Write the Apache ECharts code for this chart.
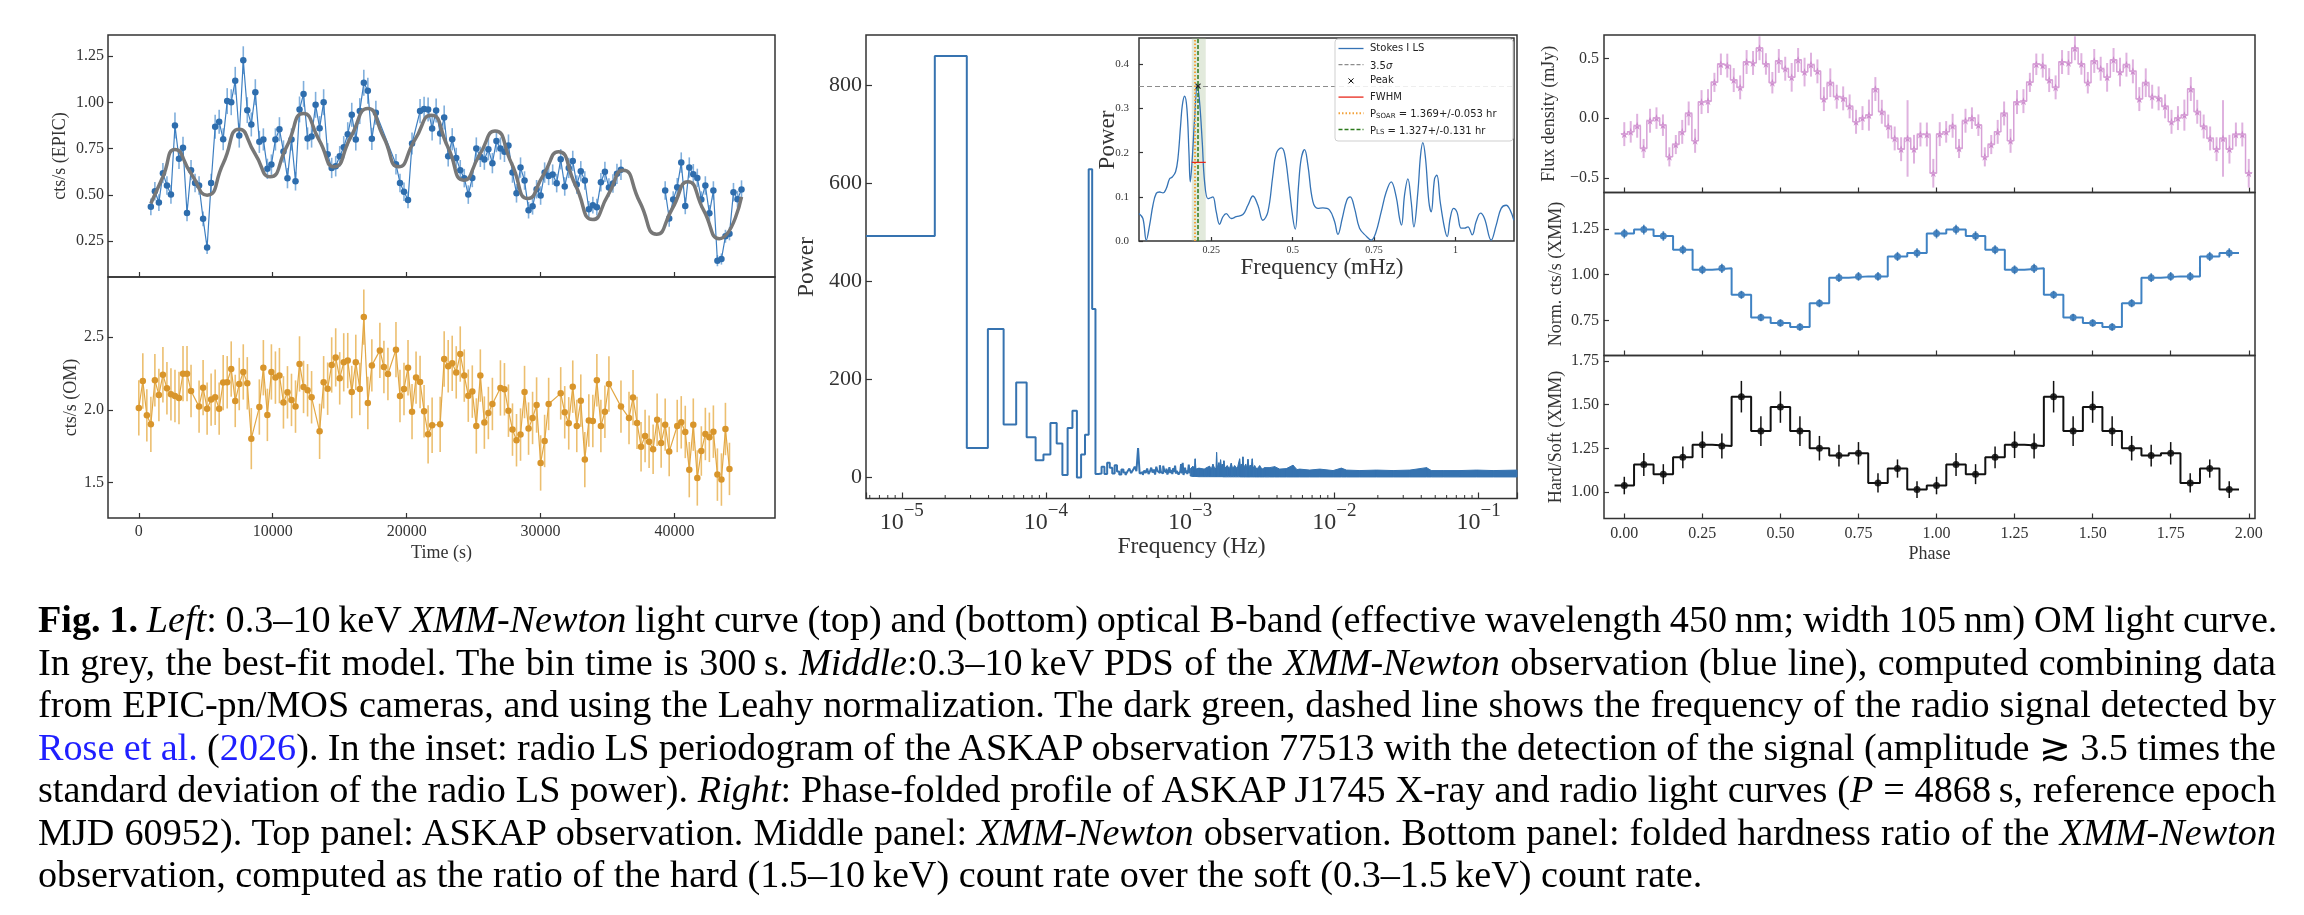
<!DOCTYPE html>
<html>
<head>
<meta charset="utf-8">
<script src="https://cdn.jsdelivr.net/npm/echarts@6/dist/echarts.min.js"></script>
<style>
  body { margin: 0; background: #fff; }
  #chart { position: absolute; left: 0; top: 0; width: 2304px; height: 915px; }
  #caption { position: absolute; left: 38px; top: 598px; width: 2238px;
    font-family: "Liberation Serif", serif; font-size: 38.2px; line-height: 42.5px; color: #000; }
  #caption .ln { white-space: nowrap; text-align: justify; text-align-last: justify; height: 42.5px; }
  #caption .last { text-align-last: left; }
  #caption .ref { color: #1f1fff; }
</style>
</head>
<body>
<div id="chart"></div>
<div id="caption">
  <div class="ln"><b>Fig. 1.</b> <i>Left</i>: 0.3–10&thinsp;keV <i>XMM-Newton</i> light curve (top) and (bottom) optical B-band (effective wavelength 450&thinsp;nm; width 105&thinsp;nm) OM light curve.</div>
  <div class="ln">In grey, the best-fit model. The bin time is 300&thinsp;s. <i>Middle</i>:0.3–10&thinsp;keV PDS of the <i>XMM-Newton</i> observation (blue line), computed combining data</div>
  <div class="ln">from EPIC-pn/MOS cameras, and using the Leahy normalization. The dark green, dashed line shows the frequency of the radio signal detected by</div>
  <div class="ln"><span class="ref">Rose et al.</span> (<span class="ref">2026</span>). In the inset: radio LS periodogram of the ASKAP observation 77513 with the detection of the signal (amplitude ≳ 3.5 times the</div>
  <div class="ln">standard deviation of the radio LS power). <i>Right</i>: Phase-folded profile of ASKAP&thinsp;J1745 X-ray and radio light curves (<i>P</i> = 4868&thinsp;s, reference epoch</div>
  <div class="ln">MJD 60952). Top panel: ASKAP observation. Middle panel: <i>XMM-Newton</i> observation. Bottom panel: folded hardness ratio of the <i>XMM-Newton</i></div>
  <div class="ln last">observation, computed as the ratio of the hard (1.5–10&thinsp;keV) count rate over the soft (0.3–1.5&thinsp;keV) count rate.</div>
</div>
<script>
// ---- left: EPIC light curve (300 s bins) ----
var epicTime = [900,1200,1500,1800,2100,2400,2700,3000,3300,3600,3900,4200,4500,4800,5100,5400,5700,6000,6300,6600,
  6900,7200,7500,7800,8100,8400,8700,9000,9300,9600,9900,10200,10500,10800,11100,11400,11700,12000,12300,12600,
  12900,13200,13500,13800,14100,14400,14700,15000,15300,15600,15900,16200,16500,16800,17100,17400,17700,
  19200,19500,19800,20100,20400,
  21000,21300,21600,21900,22200,22500,22800,23100,23400,23700,24000,24300,24600,24900,25200,25500,25800,26100,26400,26700,
  27000,27300,27600,27900,28200,28500,28800,29100,29400,29700,30000,30300,30600,30900,31200,31500,31800,32100,32400,32700,
  33000,33300,33600,33900,34200,34500,34800,35100,35400,35700,36000,
  37500,
  39300,39600,39900,40200,40500,40800,41100,41400,41700,42000,42300,42600,42900,43200,43500,43800,44100,44400,44700,45000];
var epicRate = [0.436,0.520,0.459,0.618,0.551,0.502,0.875,0.695,0.755,0.403,0.634,0.565,0.551,0.371,0.216,0.565,0.868,0.895,0.801,1.007,
  1.001,1.117,0.821,1.228,0.958,0.881,1.055,0.787,0.800,0.641,0.664,0.800,0.855,0.735,0.591,0.800,0.574,0.962,1.046,0.805,
  0.816,0.987,0.861,1.001,0.720,0.646,0.655,0.709,0.758,0.828,0.933,0.800,0.953,1.106,1.063,0.803,0.944,
  0.666,0.565,0.517,0.473,0.778,
  0.953,0.965,0.962,0.859,0.956,0.832,0.918,0.709,0.801,0.700,0.634,0.591,0.502,0.592,0.751,0.706,0.691,0.747,0.672,0.791,
  0.751,0.733,0.767,0.621,0.509,0.648,0.578,0.418,0.439,0.531,0.497,0.621,0.603,0.610,0.564,0.693,0.546,0.646,0.684,0.556,
  0.628,0.578,0.423,0.445,0.434,0.569,0.625,0.540,0.562,0.614,0.636,
  null,
  0.524,0.373,0.475,0.542,0.675,0.441,0.648,0.612,0.592,0.475,0.551,0.401,0.524,0.145,0.154,0.277,0.290,0.515,0.477,0.529];
var epicErr = [0.045,0.05,0.045,0.055,0.05,0.05,0.07,0.055,0.06,0.045,0.055,0.05,0.05,0.04,0.035,0.05,0.065,0.065,0.06,0.07,
  0.07,0.075,0.065,0.075,0.07,0.065,0.07,0.06,0.06,0.055,0.055,0.06,0.065,0.06,0.055,0.06,0.05,0.07,0.07,0.06,
  0.06,0.07,0.065,0.07,0.06,0.055,0.055,0.055,0.06,0.065,0.065,0.06,0.07,0.07,0.07,0.06,0.065,
  0.055,0.05,0.05,0.045,0.06,
  0.065,0.065,0.065,0.065,0.065,0.06,0.065,0.055,0.06,0.055,0.055,0.05,0.05,0.05,0.06,0.055,0.055,0.06,0.055,0.06,
  0.06,0.055,0.06,0.055,0.05,0.055,0.05,0.045,0.045,0.05,0.05,0.055,0.05,0.055,0.05,0.055,0.05,0.055,0.055,0.05,
  0.055,0.05,0.045,0.045,0.045,0.05,0.055,0.05,0.05,0.055,0.055,
  null,
  0.05,0.045,0.045,0.05,0.055,0.045,0.055,0.055,0.05,0.045,0.05,0.045,0.05,0.03,0.03,0.035,0.035,0.05,0.045,0.05];
// best-fit model read at its turning points and crossings
var modelTime = [900,1800,2700,3900,5100,6300,7500,8667,9800,11033,12300,13467,14600,15833,17100,18267,19400,20600,21833,23067,
  24267,25433,26600,27833,29067,30200,31333,32600,33900,35033,36167,37400,38667,39833,41000,42167,43333,45000];
var modelRate = [0.454,0.598,0.745,0.616,0.499,0.670,0.855,0.724,0.598,0.760,0.940,0.796,0.652,0.814,0.967,0.814,0.652,0.796,0.931,0.760,
  0.580,0.715,0.846,0.670,0.481,0.607,0.733,0.553,0.367,0.499,0.634,0.463,0.288,0.427,0.571,0.418,0.264,0.490];

// ---- left: OM B-band light curve ----
var omTime = [0,300,600,900,1200,1500,1800,2100,2400,2700,3000,3300,3600,3900,
  4500,4800,5100,5400,5700,6000,6300,6600,6900,7200,7500,7800,8100,8400,
  9000,9300,9600,9900,10200,10500,10800,11100,11400,11700,12000,12300,12600,12900,
  13500,13800,14100,14400,14700,15000,15300,15600,15900,16200,16500,16800,17100,17400,
  18000,18300,18600,19200,19500,19800,20100,20400,20700,21000,21300,21600,21900,
  22500,22800,23100,23400,23700,24000,24300,24600,24900,25200,25500,25800,26100,26400,
  27000,27300,27600,27900,28200,28500,28800,29100,29400,29700,30000,30300,30600,
  31500,31800,32100,32400,32700,33000,33300,33600,33900,34200,34500,34800,35100,
  36000,36600,36900,37200,37500,37800,38100,38400,38700,39000,39300,39600,
  40200,40500,40800,41100,41400,41700,42000,42300,42600,42900,43200,43500,43800,44100];
var omRate = [2.013,2.198,1.962,1.900,2.203,2.102,2.241,2.148,2.106,2.095,2.081,2.248,2.248,2.129,
  2.022,2.152,2.008,2.070,2.086,2.008,2.187,2.189,2.280,2.061,2.177,2.260,2.182,1.802,
  2.019,2.289,1.965,2.260,2.221,2.235,2.051,2.120,2.068,2.022,2.315,2.157,2.134,2.086,
  1.852,2.189,2.145,2.308,2.360,2.216,2.326,2.338,2.122,2.326,2.143,2.637,2.047,2.305,
  2.408,2.294,2.246,2.413,2.095,2.143,2.289,1.987,2.221,2.191,1.990,1.832,1.894,
  1.900,2.349,2.299,2.319,2.257,2.383,2.235,2.097,2.125,1.889,2.235,1.912,1.978,2.040,
  2.150,2.141,1.994,1.864,1.791,1.830,2.122,1.871,1.944,2.033,1.635,1.786,2.040,
  2.113,1.983,1.907,2.159,1.889,2.063,1.658,1.926,1.923,2.203,1.889,1.987,2.177,
  2.022,1.944,2.084,1.910,1.747,1.820,1.781,1.729,1.932,1.772,1.898,1.713,
  1.889,1.914,1.848,1.589,1.898,1.532,1.717,1.834,1.811,1.850,1.555,1.521,1.868,1.594];
var omErr = [0.19,0.19,0.18,0.19,0.18,0.18,0.19,0.18,0.18,0.18,0.18,0.19,0.19,0.18,
  0.18,0.19,0.18,0.18,0.19,0.18,0.19,0.18,0.19,0.18,0.18,0.19,0.18,0.21,
  0.19,0.19,0.18,0.19,0.18,0.19,0.18,0.18,0.18,0.18,0.19,0.18,0.18,0.18,
  0.19,0.18,0.18,0.19,0.20,0.18,0.20,0.19,0.18,0.19,0.18,0.19,0.18,0.18,
  0.19,0.18,0.18,0.19,0.18,0.18,0.19,0.19,0.18,0.18,0.18,0.20,0.19,
  0.19,0.19,0.18,0.19,0.18,0.19,0.18,0.18,0.18,0.19,0.18,0.18,0.18,0.18,
  0.19,0.18,0.18,0.18,0.18,0.18,0.18,0.18,0.18,0.19,0.19,0.18,0.18,
  0.18,0.18,0.18,0.18,0.18,0.18,0.19,0.18,0.18,0.18,0.18,0.18,0.19,
  0.18,0.18,0.19,0.18,0.17,0.18,0.18,0.17,0.18,0.17,0.18,0.17,
  0.18,0.18,0.18,0.19,0.18,0.19,0.17,0.18,0.17,0.18,0.18,0.18,0.18,0.18];

// ---- middle: PDS, Leahy normalised ----
var pdsBinWidth = 1.13e-5;   // Hz, bins k = 1..88 are drawn one by one
var pdsPower = [493,860,60,303,108,194,82,35,47,111,69,5,101,136,0,47,87,629,344,7,
  8,22,7,30,20,8,25,12,6,16,10,5,12,18,9,15,22,13,60,8,
  11,5,14,9,18,7,12,20,10,16,6,22,13,9,25,11,8,24,14,10,
  18,6,12,21,9,15,7,19,11,24,8,13,17,6,10,12,27,8,30,5,
  11,20,9,14,7,12,26,10];
// above 1 mHz the bins merge into a band: its upper and lower edge
var noiseFreq = [1.000e-3,1.043e-3,1.070e-3,1.083e-3,1.096e-3,1.15e-3,1.25e-3,1.30e-3,1.362e-3,1.40e-3,
  1.437e-3,1.48e-3,1.51e-3,1.524e-3,1.54e-3,1.581e-3,1.60e-3,1.624e-3,1.645e-3,1.668e-3,
  1.69e-3,1.713e-3,1.74e-3,1.807e-3,1.87e-3,1.926e-3,1.97e-3,2.032e-3,2.12e-3,2.201e-3,
  2.23e-3,2.260e-3,2.29e-3,2.321e-3,2.35e-3,2.423e-3,2.47e-3,2.515e-3,2.56e-3,2.610e-3,
  2.65e-3,2.694e-3,2.73e-3,2.797e-3,2.9e-3,3.031e-3,3.15e-3,3.283e-3,3.556e-3,3.852e-3,
  4.173e-3,4.642e-3,5.164e-3,5.5e-3,5.745e-3,6.741e-3,7.910e-3,9.788e-3,1.118e-2,1.212e-2,
  1.499e-2,1.957e-2,2.555e-2,3.335e-2,4.354e-2,4.7e-2,5.683e-2,7.420e-2,9.685e-2,0.1264,0.1845];
var noiseHigh = [17,23,17,38,17,19,17,20,23,17,
  27,18,19,51,20,30,19,36,20,27,
  20,34,19,24,18,29,18,24,18,38,
  19,27,19,42,20,27,19,37,19,25,
  19,38,19,24,17,24,17,20,20,22,
  17,18,25,16,17,15,17,14,19,15,
  14,15,14,15,20,14,14,14,15,14,15];
var noiseLow = [3,2,2,2,2,1.5,1.5,1.5,1.5,1.5,
  1.5,1.5,1.5,1.5,1.5,1.5,1.5,1.5,1.5,1.5,
  1.2,1.2,1.2,1.2,1.2,1.2,1.2,1.2,1.2,1.2,
  1,1,1,1,1,1,1,1,1,1,
  1,1,1,1,1,1,1,1,1,1,
  1,1,1,1,1,1,1,1,1,1,
  1,1,1,1,1,1,1,1,1,1,1];
var radioFreqHz = 2.093e-4;

// ---- inset: ASKAP Stokes I LS periodogram ----
var lsFreq = [0.0278,0.040,0.0503,0.0606,0.0708,0.081,0.0913,0.1015,0.1118,0.122,
  0.1302,0.1404,0.1476,0.1558,0.161,0.168,0.1752,0.1814,0.1855,0.1916,
  0.1988,0.207,0.2141,0.2223,0.2295,0.2397,0.2479,0.2551,0.2653,0.2756,
  0.2858,0.2960,0.3114,0.3267,0.3472,0.3626,0.378,0.3933,0.4086,0.424,
  0.4393,0.4496,0.465,0.4752,0.4885,0.5008,0.508,0.5182,0.5264,0.5366,
  0.5468,0.5622,0.5776,0.5929,0.6134,0.6288,0.639,0.6523,0.6666,0.6769,
  0.6902,0.7055,0.726,0.7414,0.7547,0.772,0.7874,0.8028,0.8181,0.8284,
  0.8345,0.8437,0.854,0.8642,0.8724,0.8847,0.8929,0.9,0.9082,0.9185,
  0.9256,0.9359,0.943,0.9533,0.9666,0.9748,0.984,0.9942,1.0045,1.0178,
  1.028,1.0383,1.0516,1.0638,1.0772,1.0894,1.1099,1.1253,1.1406,1.156,
  1.1683,1.1795];
var lsPower = [0.0625,0.051,0.002,0.036,0.081,0.108,0.111,0.109,0.119,0.141,
  0.145,0.157,0.187,0.262,0.307,0.328,0.300,0.202,0.134,0.187,
  0.277,0.352,0.315,0.224,0.134,0.096,0.098,0.100,0.066,0.038,
  0.055,0.062,0.051,0.055,0.060,0.081,0.102,0.081,0.047,0.066,
  0.149,0.198,0.211,0.198,0.126,0.051,0.027,0.126,0.187,0.207,
  0.172,0.089,0.074,0.075,0.070,0.044,0.015,0.051,0.093,0.100,
  0.074,0.029,0.011,0.002,0.017,0.066,0.111,0.134,0.100,0.051,
  0.036,0.104,0.141,0.089,0.032,0.111,0.194,0.223,0.187,0.089,
  0.066,0.141,0.149,0.089,0.029,0.010,0.051,0.074,0.066,0.029,
  0.029,0.032,0.014,0.044,0.063,0.051,0.002,0.036,0.074,0.081,
  0.070,0.047];
var lsSigmaLevel = 0.35;
var lsPeak = [0.2093, 0.351];
var lsFwhm = [0.190, 0.233, 0.178];
var pSoarFreq = 0.2029;   // mHz
var pLsFreq = 0.2093;     // mHz

// ---- right: folded profiles (one cycle, shown twice) ----
var radioFlux = [-0.134,-0.115,-0.064,-0.254,-0.022,0.0,-0.059,-0.324,-0.221,-0.115,
  0.039,-0.190,0.134,0.142,0.299,0.450,0.439,0.318,0.257,0.469,
  0.461,0.584,0.453,0.296,0.478,0.413,0.341,0.486,0.385,0.447,
  0.391,0.159,0.296,0.179,0.165,0.098,-0.031,0.0,0.025,0.243,
  0.053,-0.070,-0.170,-0.260,-0.170,-0.260,-0.137,-0.137,-0.461];
var radioErr = [0.10,0.09,0.10,0.08,0.10,0.09,0.09,0.08,0.08,0.10,
  0.10,0.10,0.10,0.10,0.08,0.09,0.10,0.10,0.10,0.10,
  0.10,0.10,0.09,0.09,0.10,0.10,0.12,0.10,0.12,0.10,
  0.10,0.10,0.12,0.10,0.10,0.10,0.10,0.10,0.13,0.10,
  0.10,0.10,0.10,0.10,0.32,0.12,0.10,0.10,0.12];
var xmmRate = [1.225,1.247,1.212,1.137,1.027,1.035,0.890,0.766,0.736,0.714,0.844,0.984,0.991,0.991,1.100,1.119];
var xmmErr = [0.026,0.027,0.026,0.025,0.024,0.025,0.022,0.021,0.020,0.020,0.022,0.024,0.024,0.024,0.025,0.026];
var hrRatio = [1.038,1.158,1.103,1.199,1.271,1.264,1.545,1.349,1.486,1.349,1.251,1.209,1.222,1.053,1.135,1.015];
var hrErr = [0.050,0.065,0.057,0.062,0.076,0.071,0.090,0.085,0.090,0.085,0.070,0.062,0.064,0.055,0.052,0.048];

var timeTicks = [0, 10000, 20000, 30000, 40000];
var phaseTicks = [0, 0.25, 0.5, 0.75, 1.0, 1.25, 1.5, 1.75, 2.0];

var FONT = 'Liberation Serif';
var INK = '#333';

var chart = echarts.init(document.getElementById('chart'), null, { renderer: 'canvas' });

function frame(left, top, width, height) {
  return { left: left, top: top, width: width, height: height, show: true,
    borderColor: INK, borderWidth: 1.5, backgroundColor: 'transparent',
    containLabel: false, outerBoundsMode: 'none' };
}

function axis(type, grid, min, max, ticks, o) {
  o = o || {};
  return {
    type: type, gridIndex: grid, min: min, max: max,
    axisLine: { show: false, onZero: false }, splitLine: { show: false },
    axisTick: { show: true, inside: true, length: o.len || 5, customValues: ticks,
      lineStyle: { color: INK, width: 1.2 } },
    axisLabel: o.fmt ? { show: true, customValues: ticks, formatter: o.fmt, margin: o.margin,
      color: INK, fontFamily: FONT, fontSize: o.size || 16 } : { show: false }
  };
}

function pairs(xs, ys) {
  return xs.map(function (x, i) { return [x, ys[i]]; });
}

function steps(xs, ys, half) {
  var pts = [];
  xs.forEach(function (x, i) { pts.push([x - half, ys[i]], [x + half, ys[i]]); });
  return pts;
}

function errorBars(xi, yi, xs, ys, es, color, width) {
  return {
    type: 'custom', xAxisIndex: xi, yAxisIndex: yi, silent: true,
    encode: { x: 0, y: [1, 2] },
    data: xs.map(function (x, i) {
      return ys[i] == null ? [x, NaN, NaN] : [x, ys[i] - es[i], ys[i] + es[i]];
    }),
    renderItem: function (params, api) {
      var lo = api.coord([api.value(0), api.value(1)]);
      var hi = api.coord([api.value(0), api.value(2)]);
      if (isNaN(lo[1]) || isNaN(hi[1])) return null;
      return { type: 'line', shape: { x1: lo[0], y1: lo[1], x2: hi[0], y2: hi[1] },
        style: { stroke: color, lineWidth: width } };
    }
  };
}

function cycles(vals, n) {
  var out = [];
  for (var c = 0; c < n; c++) out = out.concat(vals);
  return out;
}

// phase grids
var radioStep = 2 / 97;
var radioPhase = [], xmmPhase = [];
for (var i = 0; i < 98; i++) radioPhase.push(i * radioStep);
for (var j = 0; j < 32; j++) xmmPhase.push(j / 16);
var radioVals = cycles(radioFlux, 2), radioErrs = cycles(radioErr, 2);
var xmmVals = cycles(xmmRate, 2), xmmErrs = cycles(xmmErr, 2);
var hrVals = cycles(hrRatio, 2), hrErrs = cycles(hrErr, 2);

// PDS bins
var pdsFreq = pdsPower.map(function (p, k) { return (k + 1) * pdsBinWidth; });
var pdsMin = 0.5 * pdsBinWidth, pdsMax = 0.1845;
var pdsMinor = [];
for (var e = -6; e <= -1; e++) {
  for (var m = 2; m <= 9; m++) {
    var v = m * Math.pow(10, e);
    if (v > pdsMin && v < pdsMax) pdsMinor.push(v);
  }
}

function isDecade(v) {
  var l = Math.log10(v);
  return Math.abs(l - Math.round(l)) < 1e-6;
}

function vText(text, x, y, size) {
  return { type: 'text', x: x, y: y, rotation: Math.PI / 2, z: 50,
    style: { text: text, fontFamily: FONT, fontSize: size, fill: INK, align: 'center', verticalAlign: 'middle' } };
}
function hText(text, x, y, size) {
  return { type: 'text', x: x, y: y, z: 50,
    style: { text: text, fontFamily: FONT, fontSize: size, fill: INK, align: 'center', verticalAlign: 'middle' } };
}

// inset legend
var lgX = 1335, lgY = 39, lgRow = 16.2, lgFirst = 48.5;
var lgSamples = [
  { stroke: '#3573b5', dash: null, w: 1.3 },
  { stroke: '#8c8c8c', dash: [4, 2], w: 1.2 },
  null,
  { stroke: '#e8281c', dash: null, w: 1.3 },
  { stroke: '#f2a13a', dash: [1.5, 2], w: 2 },
  { stroke: '#2c7a1c', dash: [4, 2], w: 1.5 }
];
var lgTexts = ['Stokes I LS', '{a|3.5}{i|σ}', 'Peak', 'FWHM',
  '{a|P}{s|SOAR}{a| = 1.369+/-0.053 hr}', '{a|P}{s|LS}{a| = 1.327+/-0.131 hr}'];
var legendEls = [{ type: 'rect', shape: { x: lgX, y: lgY, width: 178, height: 102, r: 3 },
  style: { fill: 'rgba(255,255,255,0.85)', stroke: '#cfcfcf', lineWidth: 1 }, z: 60 }];
lgTexts.forEach(function (t, n) {
  var y = lgFirst + n * lgRow;
  var s = lgSamples[n];
  if (s) {
    legendEls.push({ type: 'line', z: 61, shape: { x1: lgX + 3.5, y1: y, x2: lgX + 28.5, y2: y },
      style: { stroke: s.stroke, lineWidth: s.w, lineDash: s.dash } });
  } else {
    legendEls.push({ type: 'line', z: 61, shape: { x1: lgX + 13.5, y1: y - 2.5, x2: lgX + 18.5, y2: y + 2.5 },
      style: { stroke: '#000', lineWidth: 1 } });
    legendEls.push({ type: 'line', z: 61, shape: { x1: lgX + 13.5, y1: y + 2.5, x2: lgX + 18.5, y2: y - 2.5 },
      style: { stroke: '#000', lineWidth: 1 } });
  }
  legendEls.push({ type: 'text', z: 61, x: lgX + 35, y: y,
    style: { text: t, fontFamily: 'DejaVu Sans', fontSize: 10, fill: '#222', verticalAlign: 'middle',
      rich: { a: { fontFamily: 'DejaVu Sans', fontSize: 10, fill: '#222', verticalAlign: 'bottom', lineHeight: 13 },
              i: { fontFamily: 'DejaVu Sans', fontSize: 10, fontStyle: 'italic', fill: '#222', verticalAlign: 'bottom', lineHeight: 13 },
              s: { fontFamily: 'DejaVu Sans', fontSize: 7, fill: '#222', verticalAlign: 'bottom', lineHeight: 10 } } } });
});

var starPath = 'path://M50,0L61.8,35.4L98.5,35.4L68.9,57.3L79.4,92.7L50,71L20.6,92.7L31.1,57.3L1.5,35.4L38.2,35.4Z';
var crossPath = 'path://M0,0L10,10M10,0L0,10';

var option = {
  animation: false,
  backgroundColor: '#fff',
  grid: [
    frame(108, 35, 667, 242),
    frame(108, 277, 667, 241),
    frame(866, 35, 651, 463.5),
    frame(1139, 38, 375, 203),
    frame(1604, 35, 651, 157.5),
    frame(1604, 192.5, 651, 163),
    frame(1604, 355.5, 651, 163)
  ],
  xAxis: [
    axis('value', 0, -2300, 47500, timeTicks, {}),
    axis('value', 1, -2300, 47500, timeTicks, { fmt: function (v) { return String(v); }, margin: 6 }),
    {
      type: 'log', logBase: 10, gridIndex: 2, min: pdsMin, max: pdsMax, splitNumber: 5,
      axisLine: { show: false, onZero: false }, splitLine: { show: false }, minorTick: { show: false },
      axisTick: { show: true, inside: true, length: 6, lineStyle: { color: INK, width: 1.2 } },
      axisLabel: {
        margin: 3, color: INK, fontFamily: FONT, fontSize: 24,
        formatter: function (v) {
          if (!isDecade(v)) return '';
          return '{b|10}{e|−' + Math.abs(Math.round(Math.log10(v))) + '}';
        },
        rich: {
          b: { fontFamily: FONT, fontSize: 24, color: INK, verticalAlign: 'bottom', lineHeight: 33 },
          e: { fontFamily: FONT, fontSize: 19, color: INK, verticalAlign: 'top', lineHeight: 20 }
        }
      }
    },
    axis('value', 3, 0.028, 1.18, [0.25, 0.5, 0.75, 1], { fmt: function (v) { return String(v); }, margin: 4, size: 10, len: 4 }),
    axis('value', 4, -0.065, 2.02, phaseTicks, {}),
    axis('value', 5, -0.065, 2.02, phaseTicks, {}),
    axis('value', 6, -0.065, 2.02, phaseTicks, { fmt: function (v) { return v.toFixed(2); }, margin: 7 })
  ],
  yAxis: [
    axis('value', 0, 0.057, 1.364, [0.25, 0.5, 0.75, 1.0, 1.25], { fmt: function (v) { return v.toFixed(2); }, margin: 4 }),
    axis('value', 1, 1.257, 2.912, [1.5, 2.0, 2.5], { fmt: function (v) { return v.toFixed(1); }, margin: 4 }),
    axis('value', 2, -43, 903, [0, 200, 400, 600, 800], { fmt: function (v) { return String(v); }, margin: 4, size: 22, len: 6 }),
    axis('value', 3, 0, 0.46, [0, 0.1, 0.2, 0.3, 0.4], { fmt: function (v) { return v.toFixed(1); }, margin: 10, size: 11, len: 4 }),
    axis('value', 4, -0.622, 0.695, [-0.5, 0, 0.5], { fmt: function (v) { return (v < 0 ? '−' : '') + Math.abs(v).toFixed(1); }, margin: 5 }),
    axis('value', 5, 0.558, 1.45, [0.75, 1.0, 1.25], { fmt: function (v) { return v.toFixed(2); }, margin: 5 }),
    axis('value', 6, 0.85, 1.78, [1.0, 1.25, 1.5, 1.75], { fmt: function (v) { return v.toFixed(2); }, margin: 5 })
  ],
  series: [
    // EPIC
    errorBars(0, 0, epicTime, epicRate, epicErr, '#80afdc', 1.6),
    { type: 'line', xAxisIndex: 0, yAxisIndex: 0, data: pairs(epicTime, epicRate),
      symbol: 'circle', symbolSize: 6.5, showAllSymbol: true,
      lineStyle: { color: '#3e7fc1', width: 1.2 }, itemStyle: { color: '#2e6dad' } },
    { type: 'line', xAxisIndex: 0, yAxisIndex: 0, data: pairs(modelTime, modelRate), smooth: 0.6,
      symbol: 'none', lineStyle: { color: '#777', width: 3.5 }, z: 5 },
    // OM
    errorBars(1, 1, omTime, omRate, omErr, '#ecbf70', 1.6),
    { type: 'line', xAxisIndex: 1, yAxisIndex: 1, data: pairs(omTime, omRate),
      symbol: 'circle', symbolSize: 6.5, showAllSymbol: true,
      lineStyle: { color: '#e2a744', width: 1.2 }, itemStyle: { color: '#d8952b' } },
    // PDS
    { type: 'line', xAxisIndex: 2, yAxisIndex: 2, data: steps(pdsFreq, pdsPower, pdsBinWidth / 2),
      symbol: 'none', lineStyle: { color: '#3673b0', width: 2 },
      markLine: { silent: true, symbol: ['none', 'none'], label: { show: false },
        lineStyle: { color: '#2d7a1f', width: 1.5, type: [5, 3] },
        data: [{ xAxis: radioFreqHz }] } },
    { type: 'custom', xAxisIndex: 2, yAxisIndex: 2, silent: true,
      encode: { x: 0, y: [1, 2] },
      data: noiseFreq.slice(0, -1).map(function (f, i) {
        return [f, noiseLow[i], noiseHigh[i], noiseFreq[i + 1], noiseLow[i + 1], noiseHigh[i + 1]];
      }),
      renderItem: function (params, api) {
        var a = api.coord([api.value(0), api.value(2)]);
        var b = api.coord([api.value(3), api.value(5)]);
        var c = api.coord([api.value(3), api.value(4)]);
        var d = api.coord([api.value(0), api.value(1)]);
        return { type: 'polygon', shape: { points: [a, b, c, d] },
          style: { fill: '#3673b0', stroke: '#3673b0', lineWidth: 1 } };
      } },
    { type: 'custom', xAxisIndex: 2, yAxisIndex: 2, silent: true, encode: { x: 0, y: 1 },
      data: pdsMinor.map(function (f) { return [f, -43]; }),
      renderItem: function (params, api) {
        var p = api.coord([api.value(0), api.value(1)]);
        return { type: 'line', shape: { x1: p[0], y1: p[1], x2: p[0], y2: p[1] - 3.5 },
          style: { stroke: INK, lineWidth: 1 } };
      } },
    // inset
    { type: 'line', xAxisIndex: 3, yAxisIndex: 3, data: pairs(lsFreq, lsPower), smooth: 0.4,
      symbol: 'none', lineStyle: { color: '#3573b5', width: 1.3 }, z: 4,
      markArea: { silent: true, itemStyle: { color: 'rgba(160,185,140,0.3)' },
        data: [[{ xAxis: lsFwhm[0] }, { xAxis: lsFwhm[1] }]] },
      markLine: { silent: true, symbol: ['none', 'none'], label: { show: false },
        data: [
          { yAxis: lsSigmaLevel, lineStyle: { color: '#8c8c8c', width: 1.2, type: [5, 3] } },
          { xAxis: pSoarFreq, lineStyle: { color: '#f2a13a', width: 2, type: [1.5, 2] } },
          { xAxis: pLsFreq, lineStyle: { color: '#2c7a1c', width: 1.5, type: [4, 2] } }
        ] } },
    { type: 'line', xAxisIndex: 3, yAxisIndex: 3, symbol: 'none', z: 5,
      data: [[lsFwhm[0], lsFwhm[2]], [lsFwhm[1], lsFwhm[2]]],
      lineStyle: { color: '#e8281c', width: 1.3 } },
    { type: 'scatter', xAxisIndex: 3, yAxisIndex: 3, data: [lsPeak], symbol: crossPath, symbolSize: 5, z: 6,
      itemStyle: { color: 'transparent', borderColor: '#000', borderWidth: 1.2 } },
    // radio folded
    { type: 'line', xAxisIndex: 4, yAxisIndex: 4, data: steps(radioPhase, radioVals, radioStep / 2),
      symbol: 'none', lineStyle: { color: '#d7a1d7', width: 1.5 } },
    errorBars(4, 4, radioPhase, radioVals, radioErrs, '#dfb2df', 2),
    { type: 'scatter', xAxisIndex: 4, yAxisIndex: 4, data: pairs(radioPhase, radioVals),
      symbol: starPath, symbolSize: 8, itemStyle: { color: '#c57bc5' } },
    // XMM folded
    { type: 'line', xAxisIndex: 5, yAxisIndex: 5, data: steps(xmmPhase, xmmVals, 1 / 32),
      symbol: 'none', lineStyle: { color: '#3f82c3', width: 2 } },
    errorBars(5, 5, xmmPhase, xmmVals, xmmErrs, '#4b8bc8', 1.6),
    { type: 'scatter', xAxisIndex: 5, yAxisIndex: 5, data: pairs(xmmPhase, xmmVals),
      symbol: 'circle', symbolSize: 7, itemStyle: { color: '#2a6aaa' } },
    // hardness ratio
    { type: 'line', xAxisIndex: 6, yAxisIndex: 6, data: steps(xmmPhase, hrVals, 1 / 32),
      symbol: 'none', lineStyle: { color: '#111', width: 2 } },
    errorBars(6, 6, xmmPhase, hrVals, hrErrs, '#111', 1.5),
    { type: 'scatter', xAxisIndex: 6, yAxisIndex: 6, data: pairs(xmmPhase, hrVals),
      symbol: 'circle', symbolSize: 7, itemStyle: { color: '#000' } }
  ],
  graphic: [
    vText('cts/s (EPIC)', 60, 156, 18),
    vText('cts/s (OM)', 71, 397.5, 18),
    hText('Time (s)', 441.5, 553, 18),
    vText('Power', 807, 267, 23.5),
    hText('Frequency (Hz)', 1191.5, 547, 23.5),
    vText('Power', 1108, 140, 23),
    hText('Frequency (mHz)', 1322, 268, 23),
    vText('Flux density (mJy)', 1549, 113.7, 18),
    vText('Norm. cts/s (XMM)', 1556, 274, 18),
    vText('Hard/Soft (XMM)', 1556, 437, 18),
    hText('Phase', 1929.5, 554, 18)
  ].concat(legendEls)
};

chart.setOption(option);

// squeeze word spacing of any caption line that would overflow its box
document.querySelectorAll('#caption .ln').forEach(function (ln) {
  var over = ln.scrollWidth - ln.clientWidth;
  if (over > 0) {
    var gaps = (ln.textContent.trim().match(/\s+/g) || []).length;
    if (gaps) ln.style.wordSpacing = (-(over + 1) / gaps).toFixed(2) + 'px';
  }
});
</script>
</body>
</html>
